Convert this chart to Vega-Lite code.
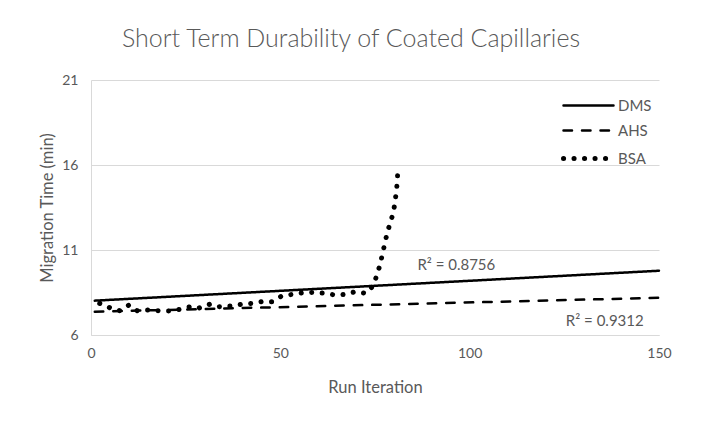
{
  "$schema": "https://vega.github.io/schema/vega-lite/v6.json",
  "width": 704,
  "height": 430,
  "autosize": {"type": "fit", "contains": "padding"},
  "padding": {"left": 39, "top": 27, "right": 32, "bottom": 34},
  "background": "white",
  "config": {"font": "Lato", "view": {"stroke": null}},
  "title": {
    "text": "Short Term Durability of Coated Capillaries",
    "fontSize": 25,
    "fontWeight": 300,
    "color": "#595959",
    "anchor": "middle",
    "dx": -24,
    "offset": 21
  },
  "layer": [
    {
      "data": {
        "values": [
          {"series": "DMS", "run": 1, "time": 8.02},
          {"series": "DMS", "run": 150, "time": 9.78},
          {"series": "AHS", "run": 1, "time": 7.37},
          {"series": "AHS", "run": 150, "time": 8.19},
          {"series": "BSA", "run": 2.3, "time": 7.86},
          {"series": "BSA", "run": 4.9, "time": 7.61},
          {"series": "BSA", "run": 7.6, "time": 7.43},
          {"series": "BSA", "run": 10.0, "time": 7.76},
          {"series": "BSA", "run": 12.2, "time": 7.43},
          {"series": "BSA", "run": 15.1, "time": 7.47},
          {"series": "BSA", "run": 17.7, "time": 7.43},
          {"series": "BSA", "run": 20.8, "time": 7.41},
          {"series": "BSA", "run": 23.5, "time": 7.51},
          {"series": "BSA", "run": 26.1, "time": 7.66},
          {"series": "BSA", "run": 28.3, "time": 7.57},
          {"series": "BSA", "run": 31.4, "time": 7.81},
          {"series": "BSA", "run": 33.6, "time": 7.66},
          {"series": "BSA", "run": 37.1, "time": 7.71},
          {"series": "BSA", "run": 39.8, "time": 7.81},
          {"series": "BSA", "run": 42.4, "time": 7.86},
          {"series": "BSA", "run": 45.1, "time": 7.96},
          {"series": "BSA", "run": 47.9, "time": 7.96},
          {"series": "BSA", "run": 50.3, "time": 8.29},
          {"series": "BSA", "run": 53.2, "time": 8.39},
          {"series": "BSA", "run": 56.1, "time": 8.49},
          {"series": "BSA", "run": 58.9, "time": 8.51},
          {"series": "BSA", "run": 61.8, "time": 8.45},
          {"series": "BSA", "run": 64.5, "time": 8.35},
          {"series": "BSA", "run": 67.1, "time": 8.39},
          {"series": "BSA", "run": 69.9, "time": 8.55},
          {"series": "BSA", "run": 72.6, "time": 8.45},
          {"series": "BSA", "run": 74.6, "time": 8.91},
          {"series": "BSA", "run": 76.3, "time": 10.1},
          {"series": "BSA", "run": 78.2, "time": 11.99},
          {"series": "BSA", "run": 79.9, "time": 13.24},
          {"series": "BSA", "run": 80.7, "time": 14.51},
          {"series": "BSA", "run": 81.1, "time": 15.82}
        ]
      },
      "mark": {"type": "line", "strokeCap": "round", "color": "black"},
      "encoding": {
        "x": {
          "field": "run",
          "type": "quantitative",
          "scale": {"domain": [0, 150], "nice": false},
          "axis": {
            "title": "Run Iteration",
            "values": [0, 50, 100, 150],
            "grid": false,
            "ticks": false,
            "labelFlush": false,
            "domainColor": "#d9d9d9",
            "domainWidth": 1,
            "labelFontSize": 14,
            "labelColor": "#595959",
            "labelPadding": 11,
            "titleFontSize": 16.5,
            "titleFontWeight": "normal",
            "titleColor": "#595959",
            "titlePadding": 19
          }
        },
        "y": {
          "field": "time",
          "type": "quantitative",
          "scale": {"domain": [6, 21], "nice": false},
          "axis": {
            "title": "Migration Time (min)",
            "values": [6, 11, 16, 21],
            "grid": true,
            "gridColor": "#d9d9d9",
            "ticks": false,
            "labelFlush": false,
            "domainColor": "#d9d9d9",
            "labelFontSize": 14,
            "labelColor": "#595959",
            "labelPadding": 13,
            "titleFontSize": 16.5,
            "titleFontWeight": "normal",
            "titleColor": "#595959",
            "titlePadding": 6
          }
        },
        "strokeDash": {
          "field": "series",
          "type": "nominal",
          "scale": {"domain": ["DMS", "AHS", "BSA"], "range": [[1, 0], [8.5, 10], [0.1, 10.4]]},
          "legend": {
            "title": null,
            "orient": "none",
            "legendX": 490,
            "legendY": 18,
            "symbolType": "M-5,0H5",
            "symbolSize": 100,
            "symbolStrokeColor": "black",
            "labelFontSize": 15,
            "labelColor": "#595959",
            "labelOffset": 22,
            "rowPadding": 9,
            "encode": {"symbols": {"update": {"strokeCap": {"value": "round"}}}}
          }
        },
        "strokeWidth": {
          "field": "series",
          "type": "nominal",
          "scale": {"type": "ordinal", "domain": ["DMS", "AHS", "BSA"], "range": [2.5, 2.5, 5]},
          "legend": {
            "title": null,
            "orient": "none",
            "legendX": 490,
            "legendY": 18,
            "symbolType": "M-5,0H5",
            "symbolSize": 100,
            "symbolStrokeColor": "black",
            "labelFontSize": 15,
            "labelColor": "#595959",
            "labelOffset": 22,
            "rowPadding": 9,
            "encode": {"symbols": {"update": {"strokeCap": {"value": "round"}}}}
          }
        }
      }
    },
    {
      "data": {
        "values": [
          {"label": "R² = 0.8756", "run": 86.2, "time": 10.12},
          {"label": "R² = 0.9312", "run": 125.4, "time": 6.82}
        ]
      },
      "mark": {"type": "text", "align": "left", "baseline": "middle", "fontSize": 15, "color": "#595959"},
      "encoding": {
        "x": {"field": "run", "type": "quantitative", "scale": {"domain": [0, 150], "nice": false}},
        "y": {"field": "time", "type": "quantitative", "scale": {"domain": [6, 21], "nice": false}},
        "text": {"field": "label", "type": "nominal"}
      }
    }
  ]
}
